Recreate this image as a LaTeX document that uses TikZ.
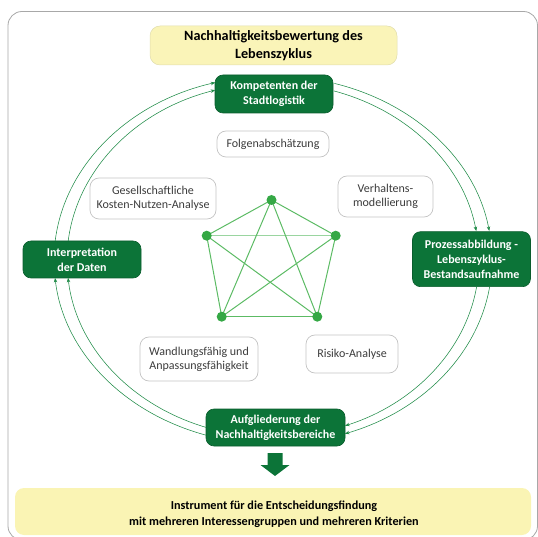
\documentclass[tikz,border=0pt]{standalone}
\usepackage{fontspec}
\setmainfont{Carlito}
\usetikzlibrary{arrows.meta,calc}

\definecolor{darkgreen}{HTML}{0C7438}
\definecolor{ringgreen}{HTML}{1F8B47}
\definecolor{dotgreen}{HTML}{35A845}
\definecolor{edgegreen}{HTML}{5CBB64}
\definecolor{edgelight}{HTML}{9AD5A0}
\definecolor{paleyellow}{HTML}{FAF4B4}
\definecolor{titleyellow}{HTML}{FAF4B8}
\definecolor{framegray}{HTML}{A8A8A8}
\definecolor{boxgray}{HTML}{C4C4C4}
\definecolor{textgray}{HTML}{3C3C3C}

\tikzset{
  greenbox/.style={draw=darkgreen!80!black, line width=0.6pt, fill=darkgreen,
    rounded corners=8pt, text=white, font=\fontsize{12}{15}\selectfont\bfseries,
    align=center, inner sep=0pt},
  whitebox/.style={draw=boxgray, line width=0.7pt, fill=white, rounded corners=9pt,
    text=textgray, font=\fontsize{12}{14}\selectfont, align=center, inner sep=0pt},
  dot/.style={circle, fill=dotgreen, minimum size=10pt, inner sep=0pt},
  edge/.style={draw=edgegreen, line width=1pt},
  ring/.style={draw=ringgreen, line width=0.55pt,
    -{Stealth[length=4.5pt,width=3.5pt]}},
}

\begin{document}
\begin{tikzpicture}[x=1pt, y=-1pt]
  \useasboundingbox (0,0) rectangle (538,537);

  % outer frame
  \draw[framegray, line width=0.8pt, rounded corners=14pt] (8,11.5) rectangle (537.5,540);

  % title and bottom banner
  \node[fill=titleyellow, draw=titleyellow!80!gray, line width=0.5pt, rounded corners=10pt,
        minimum width=247pt, minimum height=39pt, align=center,
        font=\fontsize{14.2}{18}\selectfont\bfseries] (title) at (273.5,45.5)
        {Nachhaltigkeitsbewertung des\\Lebenszyklus};
  \node[fill=paleyellow, rounded corners=9pt, minimum width=516pt, minimum height=47pt,
        align=center, font=\fontsize{12.2}{16}\selectfont\bfseries] (tool) at (273,511.5)
        {};
  \node[align=center, font=\fontsize{12.2}{16}\selectfont\bfseries] (tooltext) at (274,514)
        {Instrument für die Entscheidungsfindung\\mit mehreren Interessengruppen und mehreren Kriterien};

  % cycle steps
  \node[greenbox, minimum width=118pt, minimum height=38pt] (komp) at (274,94)
        {Kompetenten der\\Stadtlogistik};
  \node[greenbox, minimum width=118pt, minimum height=55pt] (proz) at (471.5,259.2)
        {Prozessabbildung\ -\\Lebenszyklus-\\Bestandsaufnahme};
  \node[greenbox, minimum width=139pt, minimum height=37pt] (aufg) at (275.5,427.5)
        {Aufgliederung der\\Nachhaltigkeitsbereiche};
  \node[greenbox, minimum width=118pt, minimum height=37pt] (interp) at (82,259.5)
        {Interpretation\\der Daten};

  % methods
  \node[whitebox, minimum width=112pt, minimum height=26pt] (folg) at (273,144)
        {Folgenabschätzung};
  \node[whitebox, minimum width=126pt, minimum height=41pt] (gkna) at (153,198.5)
        {Gesellschaftliche\\Kosten-Nutzen-Analyse};
  \node[whitebox, minimum width=95pt, minimum height=41pt] (verh) at (385.5,196.5)
        {Verhaltens-\\modellierung};
  \node[whitebox, minimum width=118pt, minimum height=44pt] (wand) at (199,359)
        {Wandlungsfähig und\\Anpassungsfähigkeit};
  \node[whitebox, minimum width=92pt, minimum height=38pt] (risk) at (352,354)
        {Risiko-Analyse};

  % pentagon of interrelations
  \coordinate (pt) at (271.5,200);
  \coordinate (pl) at (206.7,235.7);
  \coordinate (pr) at (335.7,235.7);
  \coordinate (pbl) at (221.7,316.7);
  \coordinate (pbr) at (317.3,316.7);
  \draw[edgelight, line width=1.6pt] (pl) -- (pr);
  \foreach \a/\b in {pt/pl, pt/pr, pt/pbl, pt/pbr, pl/pbl, pl/pbr, pr/pbl, pr/pbr, pbl/pbr}
    \draw[edge] (\a) -- (\b);
  \foreach \n in {pt,pl,pr,pbl,pbr}
    \node[dot] (\n-dot) at (\n) {};

  % double ring of arcs linking the steps (centre c, outer and inner ellipse)
  \coordinate (c) at (273,260);
  \foreach \s/\e/\rx/\ry in {
      185.9/254.7/219/184, 186.2/253.7/206/177,
      286.3/350.9/219/184, 287.2/350.6/206/177,
        8.4/70.8/219/184,   8.8/69.5/206/177,
      107.8/174.4/219/184, 109.0/174.2/206/177}
    \draw[ring] (c) ++(\s:{\rx} and {\ry})
      arc[start angle=\s, end angle=\e, x radius=\rx, y radius=\ry];

  % result arrow
  \coordinate (arr) at (275,453);
  \fill[darkgreen] (arr) ++(-7.5,0) -- ++(15,0) -- ++(0,12) -- ++(7,0)
    -- (275,476) -- (260.5,465) -- ++(7,0) -- cycle;
\end{tikzpicture}
\end{document}
